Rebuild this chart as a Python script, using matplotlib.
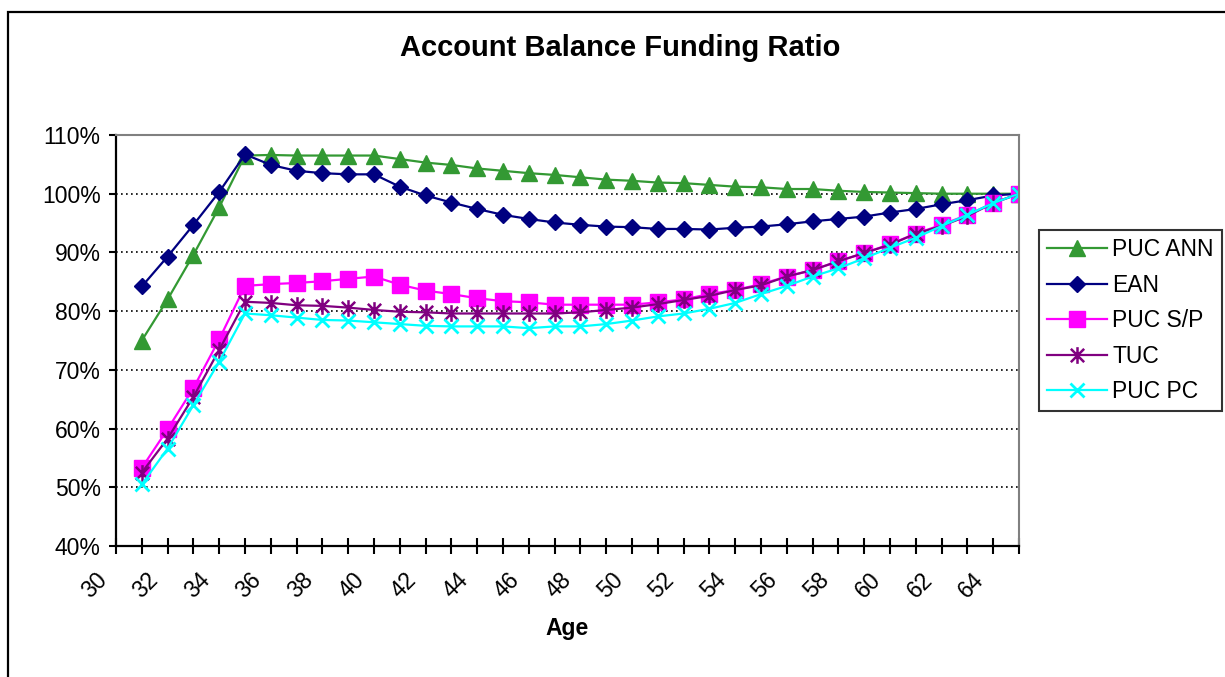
import matplotlib
matplotlib.use("Agg")
import matplotlib.pyplot as plt
from matplotlib.path import Path
from matplotlib.patches import Rectangle
from matplotlib.ticker import FuncFormatter
from matplotlib.transforms import ScaledTranslation

# ages 31..65, funding ratio in percent
AGES = list(range(31, 66))
PUC_ANN = [75.0, 82.0, 89.6, 97.7, 106.5, 106.6, 106.5, 106.5, 106.5, 106.5,
           105.9, 105.3, 104.9, 104.3, 103.9, 103.5, 103.2, 102.8, 102.4, 102.2,
           101.9, 101.8, 101.5, 101.2, 101.1, 100.8, 100.8, 100.5, 100.3, 100.2,
           100.1, 100.0, 100.0, 100.0, 100.0]
EAN = [84.2, 89.3, 94.7, 100.3, 106.7, 104.9, 103.9, 103.5, 103.3, 103.3,
       101.2, 99.7, 98.5, 97.4, 96.4, 95.7, 95.1, 94.7, 94.4, 94.3,
       94.0, 94.0, 93.9, 94.2, 94.4, 94.8, 95.3, 95.7, 96.1, 96.8,
       97.4, 98.2, 98.9, 99.7, 100.0]
PUC_SP = [53.3, 59.9, 66.9, 75.2, 84.3, 84.6, 84.8, 85.1, 85.5, 85.9,
          84.5, 83.5, 82.9, 82.2, 81.7, 81.5, 81.1, 81.1, 81.1, 81.1,
          81.5, 82.0, 82.9, 83.6, 84.6, 85.9, 87.0, 88.5, 89.9, 91.4,
          93.2, 94.7, 96.4, 98.4, 100.0]
TUC = [52.5, 58.3, 65.4, 73.4, 81.6, 81.4, 81.0, 80.9, 80.6, 80.2,
       79.9, 79.8, 79.6, 79.6, 79.6, 79.6, 79.6, 79.8, 80.2, 80.6,
       81.2, 81.9, 82.6, 83.6, 84.4, 85.9, 87.0, 88.5, 89.9, 91.3,
       93.2, 94.5, 96.2, 98.4, 100.0]
PUC_PC = [50.5, 56.6, 64.0, 71.4, 79.6, 79.3, 78.9, 78.5, 78.4, 78.1,
          77.8, 77.5, 77.4, 77.4, 77.4, 77.1, 77.4, 77.4, 77.8, 78.4,
          79.1, 79.6, 80.4, 81.4, 82.9, 84.3, 85.9, 87.3, 89.0, 90.8,
          92.5, 94.5, 96.4, 98.4, 100.0]

X_TICKS = list(range(30, 66))
X_LABELS = [str(a) if a % 2 == 0 and a < 65 else "" for a in X_TICKS]
Y_TICKS = [0.4, 0.5, 0.6, 0.7, 0.8, 0.9, 1.0, 1.1]

plt.rcParams["font.family"] = ["Liberation Sans", "DejaVu Sans"]
FS = 16.5

# excel-style asterisk: vertical bar plus an X
star = Path([(0, -1), (0, 1), (-0.8, -0.8), (0.8, 0.8), (-0.8, 0.8), (0.8, -0.8)],
            [Path.MOVETO, Path.LINETO, Path.MOVETO, Path.LINETO,
             Path.MOVETO, Path.LINETO])

fig = plt.figure(figsize=(12.25, 6.77), dpi=100)
fig.patches.append(Rectangle((8 / 1225, -0.05), 1.1, 1 - 12 / 677 + 0.05,
                             transform=fig.transFigure, fill=False,
                             edgecolor="black", linewidth=1.6))
ax = fig.add_axes([116 / 1225, 1 - 546 / 677, 903 / 1225, 411 / 677])

series = [
    ("PUC ANN", PUC_ANN, "#339933", dict(marker="^", markersize=11)),
    ("EAN", EAN, "#000080", dict(marker="D", markersize=8)),
    ("PUC S/P", PUC_SP, "#FF00FF", dict(marker="s", markersize=11)),
    ("TUC", TUC, "#800080", dict(marker=star, markersize=12, markeredgewidth=1.8)),
    ("PUC PC", PUC_PC, "#00FFFF", dict(marker="x", markersize=10, markeredgewidth=2)),
]
for name, vals, col, mk in series:
    ax.plot(AGES, [v / 100 for v in vals], color=col, linewidth=1.6,
            markerfacecolor=col, markeredgecolor=col, label=name, **mk)

ax.set_xlim(30, 65)
ax.set_ylim(0.4, 1.1)
ax.set_xticks(X_TICKS)
ax.set_xticklabels([])
# excel puts the rotated labels a bit left of and below their tick
lab_tr = ax.get_xaxis_transform() + ScaledTranslation(-0.21, -0.22, fig.dpi_scale_trans)
for age, lab in zip(X_TICKS, X_LABELS):
    if lab:
        ax.text(age, 0, lab, transform=lab_tr, rotation=45, ha="right", va="top",
                rotation_mode="anchor", fontsize=FS, clip_on=False)
ax.set_yticks(Y_TICKS)
ax.yaxis.set_major_formatter(FuncFormatter(lambda v, p: f"{v * 100:.0f}%"))
ax.tick_params(axis="y", labelsize=FS, length=5, width=1.5, direction="out", pad=6)
ax.tick_params(axis="x", length=11, width=1.5, direction="inout")
for y in Y_TICKS[1:-1]:
    ax.axhline(y, color="black", linestyle=(0, (1, 2)), linewidth=1.2, zorder=0)
ax.spines["left"].set_linewidth(1.6)
ax.spines["bottom"].set_linewidth(1.6)
ax.spines["top"].set_color("#808080")
ax.spines["right"].set_color("#808080")
ax.spines["top"].set_linewidth(1.5)
ax.spines["right"].set_linewidth(1.5)

fig.text(567 / 1225, 1 - 628 / 677, "Age", ha="center", va="center",
         fontsize=FS, fontweight="bold")
fig.text(620 / 1225, 1 - 48 / 677, "Account Balance Funding Ratio",
         ha="center", va="center", fontsize=21, fontweight="bold")

leg = ax.legend(loc="upper left", bbox_to_anchor=(1039 / 1225, 1 - 230 / 677),
                bbox_transform=fig.transFigure, fontsize=FS, frameon=True,
                fancybox=False, edgecolor="black", handlelength=2.6,
                labelspacing=0.55, borderpad=0.35, handletextpad=0.25,
                borderaxespad=0)
leg.get_frame().set_linewidth(1.5)

fig.savefig("out.png", dpi=100)
